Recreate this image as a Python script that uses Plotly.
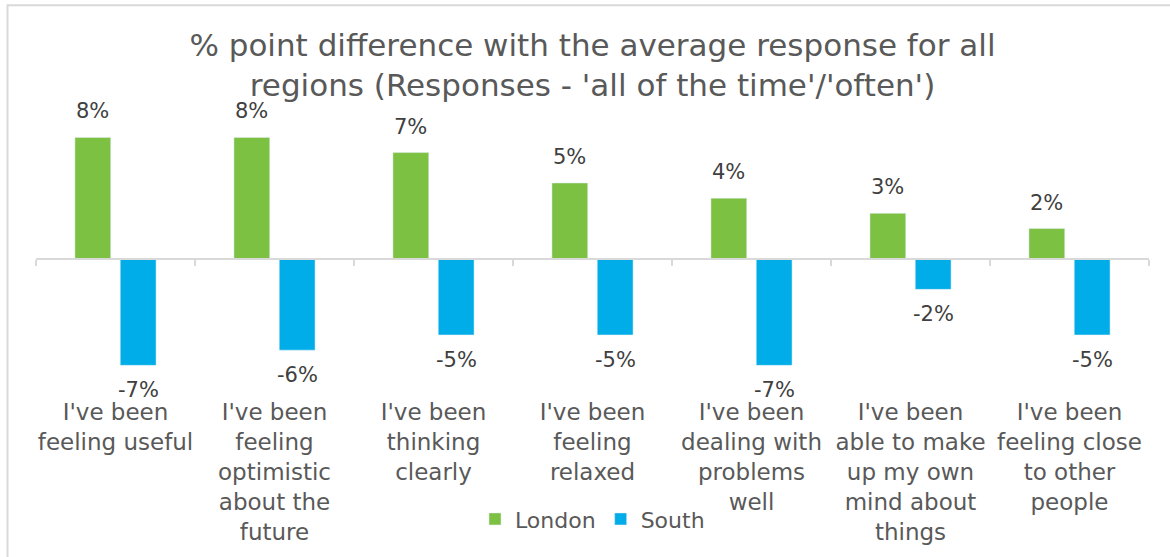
import plotly.graph_objects as go

# Survey items and % point differences vs. the all-region average
categories = [
    "I've been<br>feeling useful",
    "I've been<br>feeling<br>optimistic<br>about the<br>future",
    "I've been<br>thinking<br>clearly",
    "I've been<br>feeling<br>relaxed",
    "I've been<br>dealing with<br>problems<br>well",
    "I've been<br>able to make<br>up my own<br>mind about<br>things",
    "I've been<br>feeling close<br>to other<br>people",
]
london = [8, 8, 7, 5, 4, 3, 2]
south = [-7, -6, -5, -5, -7, -2, -5]

GREEN = "#7DC142"
BLUE = "#00ADE8"
TEXT = "#595959"
LABEL = "#404040"
GRID = "#D9D9D9"
FONT = "DejaVu Sans"

W, H = 1170, 557
M_L, M_R, M_T, M_B = 36, 21, 100, 162
plot_h = H - M_T - M_B

y_min, y_max = -8.82, 10.46
bargap, bargroupgap = 0.43, 0.21
x_idx = list(range(len(categories)))

fig = go.Figure()
fig.add_trace(go.Bar(name="London", x=x_idx, y=london, marker_color=GREEN,
                     hoverinfo="y"))
fig.add_trace(go.Bar(name="South", x=x_idx, y=south, marker_color=BLUE,
                     hoverinfo="y"))
# carrier trace for the zero-line axis with category separators
fig.add_trace(go.Scatter(x=[], y=[], xaxis="x2", showlegend=False,
                         hoverinfo="skip"))

# value labels centred over each bar of the group
half = (1 - bargap) / 4
for i in x_idx:
    fig.add_annotation(x=i - half, y=london[i], text=f"{london[i]}%",
                       showarrow=False, yshift=26, yanchor="middle",
                       font=dict(family=FONT, size=21, color=LABEL))
    fig.add_annotation(x=i + half, y=south[i], text=f"{south[i]}%",
                       showarrow=False, yshift=-25, yanchor="middle",
                       font=dict(family=FONT, size=21, color=LABEL))

zero_pos = (0 - y_min) / (y_max - y_min)

fig.update_layout(
    width=W, height=H,
    margin=dict(l=M_L, r=M_R, t=M_T, b=M_B),
    paper_bgcolor="white", plot_bgcolor="white",
    barmode="group", bargap=bargap, bargroupgap=bargroupgap,
    font=dict(family=FONT, color=TEXT),
    title=dict(
        text="% point difference with the average response for all<br>"
             "regions (Responses - 'all of the time'/'often')",
        x=0.5, xref="paper", xanchor="center",
        y=1 - 56 / H, yref="container", yanchor="middle",
        font=dict(family=FONT, size=31, color=TEXT),
    ),
    xaxis=dict(
        range=[-0.5, len(categories) - 0.5],
        tickvals=x_idx, ticktext=categories,
        tickfont=dict(family=FONT, size=23, color=TEXT),
        ticklabelstandoff=3,
        showline=False, showgrid=False, zeroline=False, ticks="",
    ),
    xaxis2=dict(
        overlaying="x", anchor="free", position=zero_pos,
        range=[-0.5, len(categories) - 0.5],
        tickvals=[i - 0.5 for i in range(len(categories) + 1)],
        showticklabels=False, ticks="outside", ticklen=6,
        tickcolor=GRID, tickwidth=1.5,
        showline=True, linecolor=GRID, linewidth=1.5,
        showgrid=False, zeroline=False,
    ),
    yaxis=dict(range=[y_min, y_max], visible=False, showgrid=False,
               zeroline=False),
    legend=dict(orientation="h", x=0.5, xanchor="center",
                y=(M_B - (H - 522)) / plot_h * -1, yanchor="middle",
                font=dict(family=FONT, size=22, color=TEXT),
                itemwidth=30, traceorder="normal"),
    showlegend=True,
)

# light frame around the chart area
fig.add_shape(type="rect", xref="paper", yref="paper",
              x0=(7.5 - M_L) / (W - M_L - M_R), x1=1.2,
              y0=-1.0, y1=(H - M_B - 4.5) / plot_h,
              line=dict(color=GRID, width=2), fillcolor="rgba(0,0,0,0)",
              layer="below")

fig.write_html("out.html")
